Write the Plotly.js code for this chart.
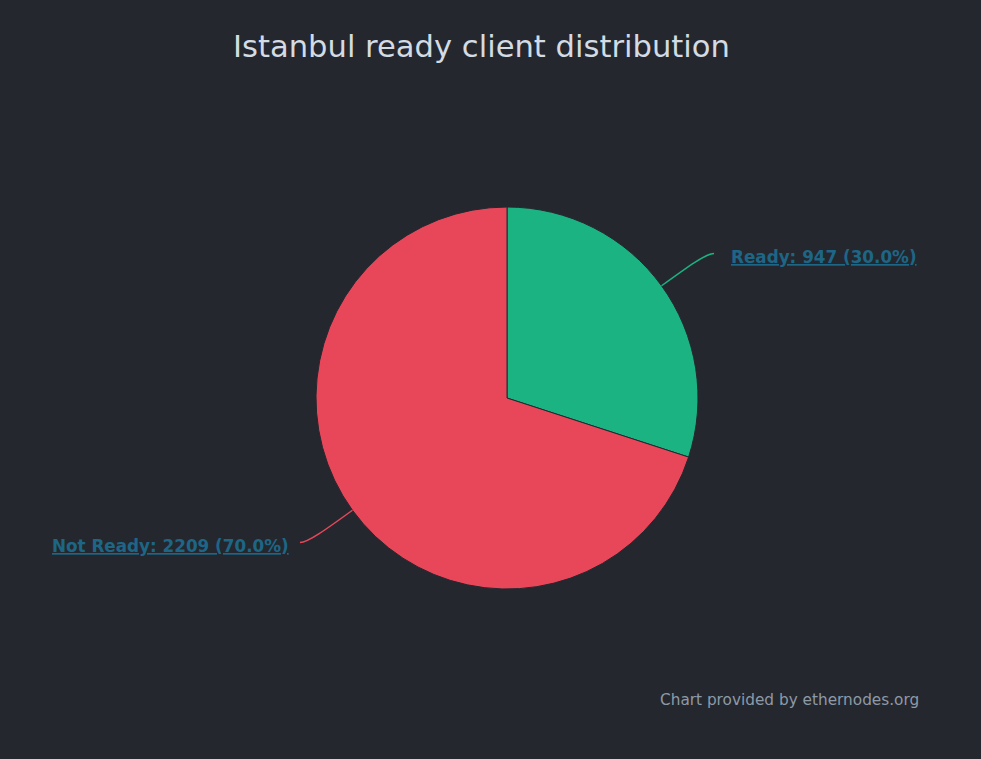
<!DOCTYPE html>
<html><head><meta charset="utf-8">
<script src="https://cdn.plot.ly/plotly-3.0.1.min.js"></script>
<style>html,body{margin:0;padding:0;background:#25272f;}#chart{width:981px;height:759px;}</style>
</head><body><div id="chart"></div>
<script>
const labels = ["Ready", "Not Ready"];
const values = [947, 2209];
const colors = ["#1ab381", "#e8475a"];
const chartTitle = "Istanbul ready client distribution";
const credit = "Chart provided by ethernodes.org";

const W = 981, H = 759;
const cx = 507, cy = 398, r = 191;
const dom = {x: [(cx - r) / W, (cx + r) / W], y: [(H - cy - r) / H, (H - cy + r) / H]};

const total = values.reduce((a, b) => a + b, 0);
const shapes = [], annotations = [];
let cum = 0;
values.forEach((v, i) => {
  const frac = v / total;
  const mid = (cum + frac / 2) * 2 * Math.PI; cum += frac;
  const dx = Math.sin(mid), dy = -Math.cos(mid);
  const side = dx >= 0 ? 1 : -1;
  const p0 = [cx + r * dx, cy + r * dy];
  const e = [cx + (r + 55) * dx, cy + (r + 55) * dy];
  const end = [e[0] + 8 * side, e[1]];
  const c1 = [p0[0] + (e[0] - p0[0]) * 0.6, p0[1] + (e[1] - p0[1]) * 0.6];
  const px = p => (p[0] / W).toFixed(5), py = p => (1 - p[1] / H).toFixed(5);
  shapes.push({type: "path", xref: "paper", yref: "paper",
    path: `M ${px(p0)},${py(p0)} C ${px(c1)},${py(c1)} ${px(e)},${py(e)} ${px(end)},${py(end)}`,
    line: {color: colors[i], width: 1.5}});
  const pct = (frac * 100).toFixed(1);
  annotations.push({xref: "paper", yref: "paper",
    x: (end[0] + side * (side > 0 ? 15 : 9)) / W, y: 1 - (end[1] + (side > 0 ? 4 : 3)) / H,
    xanchor: side > 0 ? "left" : "right", yanchor: "middle", showarrow: false,
    text: `<b><u>${labels[i]}: ${values[i]} (${pct}%)</u></b>`,
    font: {family: "DejaVu Sans", size: 16.8, color: "#1d6686"}});
});
annotations.push({xref: "paper", yref: "paper", x: 921 / W, y: 1 - 700 / H,
  xanchor: "right", yanchor: "middle", showarrow: false, text: credit,
  font: {family: "DejaVu Sans", size: 15.3, color: "#8d9aa6"}});

Plotly.newPlot("chart", [{
  type: "pie", labels: labels, values: values, sort: false, direction: "clockwise", rotation: 0,
  marker: {colors: colors, line: {color: "#25272f", width: 1}},
  textinfo: "none", hoverinfo: "label+value+percent", domain: dom, showlegend: false
}], {
  width: W, height: H, paper_bgcolor: "#25272f", plot_bgcolor: "#25272f",
  margin: {l: 0, r: 0, t: 0, b: 0},
  title: {text: chartTitle, x: 0.4908, xanchor: "center", y: 1 - 46 / H, yanchor: "middle",
    font: {family: "DejaVu Sans", size: 30.6, color: "#d3dbe3"}},
  shapes: shapes, annotations: annotations, showlegend: false
}, {displayModeBar: false, staticPlot: false});
</script></body></html>
